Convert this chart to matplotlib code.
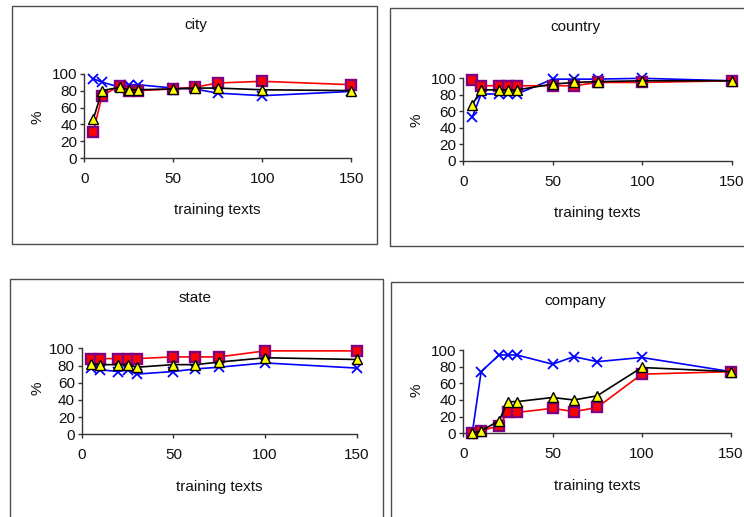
import matplotlib
matplotlib.use("Agg")
import matplotlib.pyplot as plt
from matplotlib.patches import Rectangle

plt.rcParams['font.family'] = ['Liberation Sans', 'DejaVu Sans']

# number of training texts (shared x values)
training_texts = [5, 10, 20, 25, 30, 50, 62, 75, 100, 150]

panel_names = ["city", "country", "state", "company"]

# red squares
city_red = [31, 74, 86, 80, 80, 82, 84, 89, 91, 87]
country_red = [98, 91, 91, 91, 91, 91, 91, 95, 95, 97]
state_red = [88, 88, 88, 88, 88, 90, 90, 90, 97, 97]
company_red = [0, 3, 9, 25, 25, 30, 26, 31, 71, 74]

# black triangles
city_black = [46, 80, 84, 81, 81, 82, 83, 83, 81, 80]
country_black = [68, 86, 86, 86, 86, 93, 95, 96, 97, 97]
state_black = [82, 81, 81, 81, 78, 81, 81, 84, 89, 87]
company_black = [0, 3, 15, 38, 38, 43, 40, 45, 79, 74]

# blue crosses
city_blue = [94, 90, 84, 87, 87, 83, 82, 77, 74, 79]
country_blue = [53, 81, 81, 81, 81, 99, 99, 99, 100, 97]
state_blue = [77, 75, 73, 75, 70, 73, 76, 78, 83, 77]
company_blue = [0, 74, 94, 94, 94, 83, 92, 86, 91, 74]

red_series = [city_red, country_red, state_red, company_red]
black_series = [city_black, country_black, state_black, company_black]
blue_series = [city_blue, country_blue, state_blue, company_blue]

W, H = 744, 517
FS = 11
fig = plt.figure(figsize=(W / 100, H / 100), dpi=100)


def fx(px):
    return px / W


def fy(py):
    return 1 - py / H


# panel layout in pixels: frame box (l, t, r, b), plot area (x0, x150, y0, y100),
# title, x-label and y-label centres
layouts = [
    dict(box=(11.5, 6, 377, 243.5), area=(84.3, 351.3, 158.3, 73.7),
         title=(196, 25), xlab=(217, 210), ylab=(37, 117)),
    dict(box=(390, 8.5, 760, 246.5), area=(463.3, 731.7, 161, 78.3),
         title=(575, 27), xlab=(597, 213), ylab=(417, 120)),
    dict(box=(9.5, 278.5, 382.5, 530), area=(81.7, 356.7, 434.3, 348.3),
         title=(195, 298), xlab=(219, 487), ylab=(37, 388)),
    dict(box=(391, 282, 760, 530), area=(463.3, 731, 433.3, 350),
         title=(575, 301), xlab=(597, 486), ylab=(417, 390)),
]

for i, lay in enumerate(layouts):
    l, t, r, b = lay["box"]
    fig.patches.append(Rectangle((fx(l), fy(b)), fx(r - l), (b - t) / H,
                                 transform=fig.transFigure, fill=False,
                                 edgecolor="#4d4d4d", linewidth=1.0))

    x0, x1, y0, y1 = lay["area"]
    ax = fig.add_axes([fx(x0), fy(y0), fx(x1 - x0), (y0 - y1) / H])
    ax.set_xlim(0, 150)
    ax.set_ylim(0, 100)
    ax.set_xticks([0, 50, 100, 150])
    ax.set_yticks([0, 20, 40, 60, 80, 100])
    for s in ("top", "right"):
        ax.spines[s].set_visible(False)
    for s in ("left", "bottom"):
        ax.spines[s].set_color("#333333")
        ax.spines[s].set_linewidth(1.0)
    ax.tick_params(direction="out", length=3, width=1, color="#333333",
                   labelsize=FS, pad=2, labelcolor="#111111")
    ax.tick_params(axis="x", pad=7)
    ax.patch.set_alpha(0)

    ax.plot(training_texts, blue_series[i], color="#0000ff", lw=1.2,
            marker="x", ms=7, mew=1.3, clip_on=False, zorder=3)
    ax.plot(training_texts, red_series[i], color="#ff0000", lw=1.2,
            marker="s", ms=7.5, mfc="#ff0000", mec="#800080", mew=1.7,
            clip_on=False, zorder=4)
    ax.plot(training_texts, black_series[i], color="#000000", lw=1.2,
            marker="^", ms=7.5, mfc="#ffff00", mec="#000000", mew=1.0,
            clip_on=False, zorder=5)

    fig.text(fx(lay["title"][0]), fy(lay["title"][1]), panel_names[i],
             ha="center", va="center", fontsize=FS, color="#111111")
    fig.text(fx(lay["xlab"][0]), fy(lay["xlab"][1]), "training texts",
             ha="center", va="center", fontsize=FS, color="#111111")
    fig.text(fx(lay["ylab"][0]), fy(lay["ylab"][1]), "%",
             ha="center", va="center", fontsize=FS, rotation=90,
             color="#111111")

fig.savefig("out.png", dpi=100)
